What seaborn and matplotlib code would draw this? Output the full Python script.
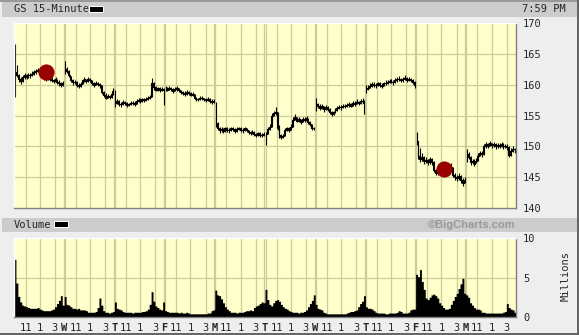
import numpy as np
import pandas as pd
import matplotlib
matplotlib.use("Agg")
import matplotlib.pyplot as plt
from matplotlib.patches import Rectangle
import seaborn as sns

# ---------------- data ----------------
day_letters = ["", "W", "T", "F", "M", "T", "W", "T", "F", "M"]
hour_labels = ["11", "1", "3"]
price_ticks = [140, 145, 150, 155, 160, 165, 170]
volume_ticks = [0, 5, 10]

close_d1 = [162.0, 161.5, 161.0, 160.6, 161.2, 161.5, 161.3, 161.6, 161.5, 161.8, 162.0, 162.2, 162.4, 161.8, 161.5, 161.2, 161.0, 161.3, 161.0, 160.8, 160.6, 160.9, 160.5, 160.2, 160.0, 160.2]
high_d1 = [166.6, 163.2, 161.8, 161.3, 161.6, 161.9, 161.8, 161.9, 161.9, 162.2, 162.3, 162.5, 162.7, 162.5, 161.9, 161.6, 161.4, 161.6, 161.5, 161.2, 161.0, 161.2, 160.9, 160.7, 160.5, 160.6]
low_d1 = [158.0, 161.2, 160.4, 160.1, 160.5, 161.0, 160.9, 161.1, 161.1, 161.4, 161.6, 161.8, 162.0, 161.5, 161.2, 160.8, 160.6, 160.8, 160.6, 160.4, 160.2, 160.4, 160.1, 159.8, 159.6, 159.8]

close_d2 = [162.6, 162.2, 161.6, 160.7, 160.4, 160.5, 160.0, 159.8, 160.1, 160.7, 160.9, 160.6, 160.9, 160.7, 160.2, 160.0, 160.3, 160.1, 159.9, 158.8, 158.4, 157.9, 158.1, 158.0, 158.5, 159.0]
high_d2 = [163.8, 162.8, 162.3, 161.4, 160.9, 160.8, 160.6, 160.2, 160.4, 161.0, 161.2, 161.0, 161.2, 161.1, 160.8, 160.4, 160.6, 160.5, 160.3, 160.0, 158.9, 158.6, 158.5, 158.4, 158.8, 159.4]
low_d2 = [161.8, 161.9, 161.3, 160.4, 160.0, 160.1, 159.6, 159.4, 159.7, 160.1, 160.5, 160.3, 160.5, 160.4, 159.9, 159.7, 159.9, 159.8, 159.5, 158.5, 158.0, 157.6, 157.8, 157.7, 157.9, 158.4]

close_d3 = [157.0, 157.3, 156.9, 156.8, 157.2, 157.0, 156.7, 156.8, 157.1, 157.0, 156.9, 157.3, 157.5, 157.4, 157.6, 157.5, 157.7, 157.8, 158.0, 160.3, 159.6, 159.2, 159.4, 159.1, 159.3, 159.2]
high_d3 = [159.2, 157.7, 157.5, 157.2, 157.5, 157.4, 157.2, 157.1, 157.4, 157.4, 157.3, 157.6, 157.8, 157.8, 157.9, 157.9, 158.0, 158.1, 158.4, 161.1, 160.5, 159.8, 159.7, 159.6, 159.6, 159.5]
low_d3 = [156.4, 156.8, 156.5, 156.4, 156.7, 156.7, 156.4, 156.5, 156.7, 156.7, 156.6, 156.8, 157.2, 157.1, 157.2, 157.2, 157.4, 157.5, 157.6, 158.0, 159.2, 158.9, 159.0, 158.8, 158.9, 156.7]

close_d4 = [159.4, 159.2, 159.5, 159.3, 159.0, 159.3, 159.4, 159.1, 158.8, 158.7, 158.5, 158.8, 158.6, 158.4, 158.5, 157.9, 157.7, 157.6, 157.9, 157.8, 157.6, 157.5, 157.7, 157.4, 157.2, 157.4]
high_d4 = [159.8, 159.6, 159.8, 159.7, 159.4, 159.6, 159.8, 159.5, 159.2, 159.0, 158.9, 159.1, 159.0, 158.8, 158.8, 158.5, 158.0, 157.9, 158.2, 158.1, 157.9, 157.8, 158.0, 157.8, 157.6, 157.7]
low_d4 = [158.9, 158.9, 159.1, 158.9, 158.7, 158.9, 159.0, 158.8, 158.5, 158.4, 158.2, 158.4, 158.3, 158.1, 158.1, 157.6, 157.4, 157.3, 157.5, 157.5, 157.3, 157.2, 157.3, 157.1, 156.9, 157.1]

close_d5 = [153.8, 153.0, 152.6, 152.8, 152.5, 152.9, 152.7, 152.6, 152.9, 152.8, 152.5, 152.8, 152.9, 152.7, 152.6, 152.9, 152.6, 152.3, 152.2, 152.4, 152.0, 151.9, 152.1, 151.8, 151.9, 152.0]
high_d5 = [157.2, 154.0, 153.2, 153.1, 152.9, 153.2, 153.1, 152.9, 153.2, 153.2, 152.9, 153.1, 153.2, 153.1, 152.9, 153.2, 153.0, 152.7, 152.5, 152.7, 152.5, 152.2, 152.4, 152.3, 152.2, 152.4]
low_d5 = [153.2, 152.7, 152.2, 152.4, 152.1, 152.4, 152.4, 152.2, 152.5, 152.5, 152.2, 152.4, 152.6, 152.4, 152.2, 152.5, 152.3, 152.0, 151.9, 152.0, 151.7, 151.5, 151.7, 151.5, 151.5, 151.6]

close_d6 = [152.0, 152.8, 153.2, 155.0, 155.4, 155.6, 153.0, 151.8, 151.5, 151.6, 152.6, 152.9, 152.7, 153.2, 154.3, 154.8, 154.1, 154.4, 154.0, 154.5, 154.2, 154.6, 154.0, 153.6, 153.0, 152.9]
high_d6 = [152.4, 153.2, 153.6, 155.4, 155.8, 156.3, 155.5, 153.4, 152.0, 152.0, 152.9, 153.2, 153.1, 153.6, 154.7, 155.2, 154.8, 154.7, 154.5, 154.8, 154.7, 154.9, 154.6, 154.1, 153.6, 153.2]
low_d6 = [150.2, 152.0, 152.7, 153.2, 155.0, 155.1, 152.7, 151.3, 151.2, 151.3, 151.6, 152.5, 152.4, 152.7, 153.2, 154.2, 153.9, 154.0, 153.7, 154.0, 153.9, 154.1, 153.7, 153.3, 152.7, 152.6]

close_d7 = [156.8, 156.5, 156.2, 156.5, 156.0, 156.3, 156.1, 155.6, 155.3, 155.5, 155.9, 156.2, 156.4, 156.3, 156.6, 156.5, 156.7, 156.8, 156.6, 157.0, 156.9, 157.2, 157.0, 157.3, 157.4, 157.0]
high_d7 = [157.8, 157.1, 156.8, 156.9, 156.6, 156.7, 156.5, 156.2, 155.8, 155.8, 156.2, 156.5, 156.7, 156.7, 156.9, 156.9, 157.0, 157.2, 157.0, 157.3, 157.3, 157.6, 157.4, 157.6, 157.8, 157.5]
low_d7 = [155.8, 156.2, 155.9, 156.0, 155.6, 155.9, 155.8, 155.2, 154.9, 155.1, 155.4, 155.8, 156.0, 155.9, 156.2, 156.2, 156.3, 156.4, 156.3, 156.5, 156.6, 156.8, 156.7, 156.9, 157.0, 155.3]

close_d8 = [159.3, 159.5, 159.8, 160.1, 160.0, 159.9, 160.2, 160.0, 159.8, 160.2, 160.3, 160.4, 160.6, 160.5, 160.4, 160.7, 160.9, 161.0, 160.7, 160.9, 161.1, 160.8, 160.9, 160.7, 160.5, 159.9]
high_d8 = [160.0, 159.9, 160.2, 160.4, 160.4, 160.3, 160.5, 160.4, 160.2, 160.5, 160.7, 160.8, 161.0, 160.9, 160.8, 161.1, 161.2, 161.4, 161.1, 161.2, 161.5, 161.2, 161.2, 161.1, 160.9, 160.6]
low_d8 = [158.7, 159.1, 159.4, 159.7, 159.6, 159.5, 159.8, 159.6, 159.4, 159.8, 160.0, 160.1, 160.2, 160.2, 160.0, 160.3, 160.5, 160.6, 160.4, 160.5, 160.7, 160.5, 160.6, 160.4, 160.1, 159.5]

close_d9 = [150.8, 148.5, 148.0, 148.3, 147.6, 147.8, 147.4, 147.9, 147.5, 146.2, 145.7, 145.9, 146.3, 146.5, 146.2, 146.4, 146.0, 146.3, 146.6, 145.3, 145.0, 144.8, 145.2, 144.5, 144.0, 144.6]
high_d9 = [152.4, 150.9, 149.7, 148.9, 148.5, 148.3, 148.0, 148.3, 148.1, 147.6, 146.4, 146.3, 146.7, 146.9, 146.8, 146.8, 146.6, 146.7, 147.3, 146.7, 145.6, 145.3, 145.6, 145.3, 144.9, 145.0]
low_d9 = [150.2, 147.9, 147.4, 147.6, 147.2, 147.3, 147.0, 147.2, 147.0, 145.8, 145.3, 145.4, 145.7, 146.0, 145.8, 145.9, 145.6, 145.8, 146.0, 145.0, 144.6, 144.4, 144.6, 144.1, 143.6, 144.1]

close_d10 = [148.8, 148.2, 147.4, 147.6, 147.2, 147.7, 148.5, 148.9, 148.7, 150.0, 150.3, 150.1, 150.5, 150.2, 150.3, 150.0, 150.2, 150.1, 150.3, 150.0, 150.1, 149.9, 148.6, 149.3, 149.6, 149.5]
high_d10 = [149.5, 149.1, 148.4, 148.0, 147.9, 148.1, 149.0, 149.3, 149.2, 150.4, 150.7, 150.6, 150.9, 150.6, 150.7, 150.5, 150.6, 150.5, 150.7, 150.5, 150.4, 150.3, 150.0, 149.7, 150.0, 149.8]
low_d10 = [147.5, 147.9, 147.0, 147.1, 146.8, 147.3, 147.6, 148.4, 148.3, 148.6, 149.8, 149.7, 150.0, 149.8, 149.9, 149.6, 149.8, 149.7, 149.9, 149.6, 149.7, 149.4, 148.2, 148.5, 149.1, 149.0]

vol_d1 = [7.3, 4.3, 2.6, 1.9, 1.5, 1.4, 1.3, 1.2, 1.1, 1.1, 1.1, 1.1, 1.2, 1.0, 0.9, 0.8, 0.8, 0.8, 0.8, 0.9, 1.0, 1.3, 1.7, 2.1, 2.7, 1.5]
vol_d2 = [2.6, 1.6, 1.5, 1.3, 1.1, 1.1, 1.0, 1.1, 0.9, 0.9, 0.9, 0.8, 0.6, 0.6, 0.6, 0.6, 0.7, 1.2, 2.4, 1.5, 0.8, 0.6, 0.6, 0.5, 0.6, 0.7]
vol_d3 = [1.9, 1.1, 1.0, 0.9, 0.7, 0.6, 0.6, 0.6, 0.6, 0.5, 0.6, 0.6, 0.6, 0.6, 0.7, 0.7, 0.8, 1.0, 1.6, 3.2, 2.0, 1.4, 1.2, 1.0, 0.9, 1.9]
vol_d4 = [0.8, 0.7, 0.6, 0.6, 0.6, 0.6, 0.6, 0.5, 0.6, 0.5, 0.5, 0.6, 0.5, 0.4, 0.4, 0.4, 0.4, 0.4, 0.4, 0.4, 0.4, 0.4, 0.5, 0.5, 0.8, 0.9]
vol_d5 = [3.4, 2.8, 2.7, 2.3, 1.8, 1.3, 1.0, 0.8, 0.6, 0.6, 0.6, 0.5, 0.6, 0.6, 0.6, 0.7, 0.8, 0.8, 0.9, 0.8, 1.2, 1.4, 1.5, 1.7, 1.9, 1.8]
vol_d6 = [3.5, 2.2, 1.6, 1.4, 1.8, 2.1, 2.2, 2.0, 1.6, 1.3, 1.1, 1.0, 0.8, 0.7, 0.6, 0.6, 0.6, 0.5, 0.6, 0.6, 0.7, 0.9, 1.3, 1.7, 2.1, 2.8]
vol_d7 = [1.6, 1.1, 1.0, 0.9, 0.6, 0.5, 0.4, 0.4, 0.4, 0.4, 0.4, 0.4, 0.4, 0.4, 0.4, 0.4, 0.5, 0.6, 0.7, 0.7, 0.8, 0.9, 1.3, 1.7, 2.0, 2.7]
vol_d8 = [1.3, 1.1, 1.1, 1.0, 0.8, 0.6, 0.5, 0.5, 0.5, 0.5, 0.4, 0.4, 0.5, 0.5, 0.5, 0.5, 0.6, 0.8, 0.7, 0.5, 0.5, 0.5, 0.6, 0.9, 1.0, 1.0]
vol_d9 = [5.4, 5.1, 6.0, 4.5, 3.5, 2.4, 2.2, 2.5, 2.8, 2.9, 2.7, 2.4, 1.8, 1.5, 1.2, 1.0, 1.0, 1.1, 1.6, 2.1, 2.6, 3.0, 3.6, 4.2, 4.9, 3.0]
vol_d10 = [2.8, 2.5, 1.8, 1.5, 1.2, 1.0, 1.0, 0.9, 0.6, 0.6, 0.5, 0.5, 0.5, 0.5, 0.5, 0.5, 0.5, 0.5, 0.5, 0.6, 0.7, 1.7, 1.2, 1.0, 0.9, 0.6]

event_bar = [16, 222]
event_price = [162.0, 146.4]

# ---------------- assemble ----------------
closes = [close_d1, close_d2, close_d3, close_d4, close_d5, close_d6, close_d7, close_d8, close_d9, close_d10]
highs = [high_d1, high_d2, high_d3, high_d4, high_d5, high_d6, high_d7, high_d8, high_d9, high_d10]
lows = [low_d1, low_d2, low_d3, low_d4, low_d5, low_d6, low_d7, low_d8, low_d9, low_d10]
vols = [vol_d1, vol_d2, vol_d3, vol_d4, vol_d5, vol_d6, vol_d7, vol_d8, vol_d9, vol_d10]

rows = []
for d in range(10):
    for k in range(26):
        rows.append(dict(day=d, x=d * 26 + k + 0.5, close=closes[d][k],
                         high=highs[d][k], low=lows[d][k], vol=vols[d][k]))
df = pd.DataFrame(rows)
n_days = 10
bars_per_day = 26
n_bars = n_days * bars_per_day

# ---------------- figure ----------------
sns.set_style("white")
plt.rcParams["font.family"] = ["DejaVu Sans Mono", "DejaVu Sans"]

W, H = 579, 335
fig = plt.figure(figsize=(W / 100, H / 100), dpi=100, facecolor="#eeeeee")

def rect(x0, y0, x1, y1, color, z=0):
    fig.patches.append(Rectangle((x0 / W, 1 - y1 / H), (x1 - x0) / W, (y1 - y0) / H,
                                 transform=fig.transFigure, facecolor=color,
                                 edgecolor="none", zorder=z))

# frame / header bands
rect(0, 0, W, 1.5, "#999999")
rect(2, 2, 577, 17, "#cccccc")
rect(2, 218, 577, 232, "#cccccc")
rect(577, 0, W, H, "#666666")
rect(0, 333, W, H, "#666666")

# legend swatches
rect(89, 6, 104, 13, "white", 1)
rect(90, 7, 103, 12, "black", 2)
rect(54, 221, 69, 228, "white", 1)
rect(55, 222, 68, 227, "black", 2)

fig.text(14 / W, 1 - 9.5 / H, "GS 15-Minute", fontsize=7.5, va="center", ha="left")
fig.text(566 / W, 1 - 9.5 / H, "7:59 PM", fontsize=7.5, va="center", ha="right")
fig.text(14 / W, 1 - 225.5 / H, "Volume", fontsize=7.5, va="center", ha="left")
fig.text(516 / W, 1 - 225.5 / H, "\u00a9BigCharts.com", fontsize=8, va="center", ha="right",
         family="Liberation Sans", weight="bold", color="#999999")
fig.text(566 / W, 1 - 276 / H, "Millions", fontsize=7.5, va="center", ha="center", rotation=90)

ax1 = fig.add_axes([14 / W, 1 - 208 / H, 502 / W, 185 / H])
ax2 = fig.add_axes([14 / W, 1 - 317 / H, 502 / W, 79 / H])

grid_c = "#cccc99"
hour_off = [6.0, 13.4, 21.2]
vgrid = []
for d in range(n_days):
    for h in hour_off:
        vgrid.append(d * bars_per_day + h)
    if d > 0:
        vgrid += [d * bars_per_day - 0.35, d * bars_per_day + 0.35]

for ax in (ax1, ax2):
    ax.set_facecolor("#ffffcc")
    ax.set_xlim(0, n_bars)
    for xv in vgrid:
        ax.axvline(xv, color=grid_c, lw=0.9, zorder=0.5)
    for side in ("left", "top"):
        ax.spines[side].set_color("white")
        ax.spines[side].set_linewidth(1.0)
    for side in ("right", "bottom"):
        ax.spines[side].set_color("#808080")
        ax.spines[side].set_linewidth(1.0)
    ax.yaxis.tick_right()
    ax.tick_params(axis="both", length=0, labelsize=7.5, pad=5)

# price panel
ax1.set_ylim(140, 170)
for yv in price_ticks[1:-1]:
    ax1.axhline(yv, color=grid_c, lw=0.9, zorder=0.5)
ax1.vlines(df["x"], df["low"], df["high"], color="black", lw=0.8, zorder=2)
sns.lineplot(data=df, x="x", y="close", units="day", estimator=None, ax=ax1,
             color="black", lw=0.8, drawstyle="steps-mid", legend=False, zorder=2)
ax1.scatter([b + 0.5 for b in event_bar], event_price, s=135, color="#990000",
            linewidths=0, zorder=5)
ax1.set_yticks(price_ticks)
ax1.set_yticklabels([str(t) for t in price_ticks])
ax1.set_xticks([])
ax1.set_xlabel("")
ax1.set_ylabel("")

# volume panel
ax2.set_ylim(0, 10)
ax2.axhline(5, color=grid_c, lw=0.9, zorder=0.5)
xe = np.arange(n_bars + 1)
ve = np.append(df["vol"].values, df["vol"].values[-1])
ax2.fill_between(xe, ve, step="post", color="black", lw=0, zorder=2)
ax2.set_yticks(volume_ticks)
ax2.set_yticklabels([str(t) for t in volume_ticks])

major = [d * bars_per_day + h for d in range(n_days) for h in hour_off]
ax2.set_xticks(major)
ax2.set_xticklabels(hour_labels * n_days)
minor = [d * bars_per_day for d in range(1, n_days)]
ax2.set_xticks(minor, minor=True)
ax2.set_xticklabels(day_letters[1:], minor=True, fontweight="bold")
ax2.tick_params(axis="x", which="both", length=0, labelsize=7.5, pad=4)

fig.savefig("out.png", dpi=100, facecolor=fig.get_facecolor())
